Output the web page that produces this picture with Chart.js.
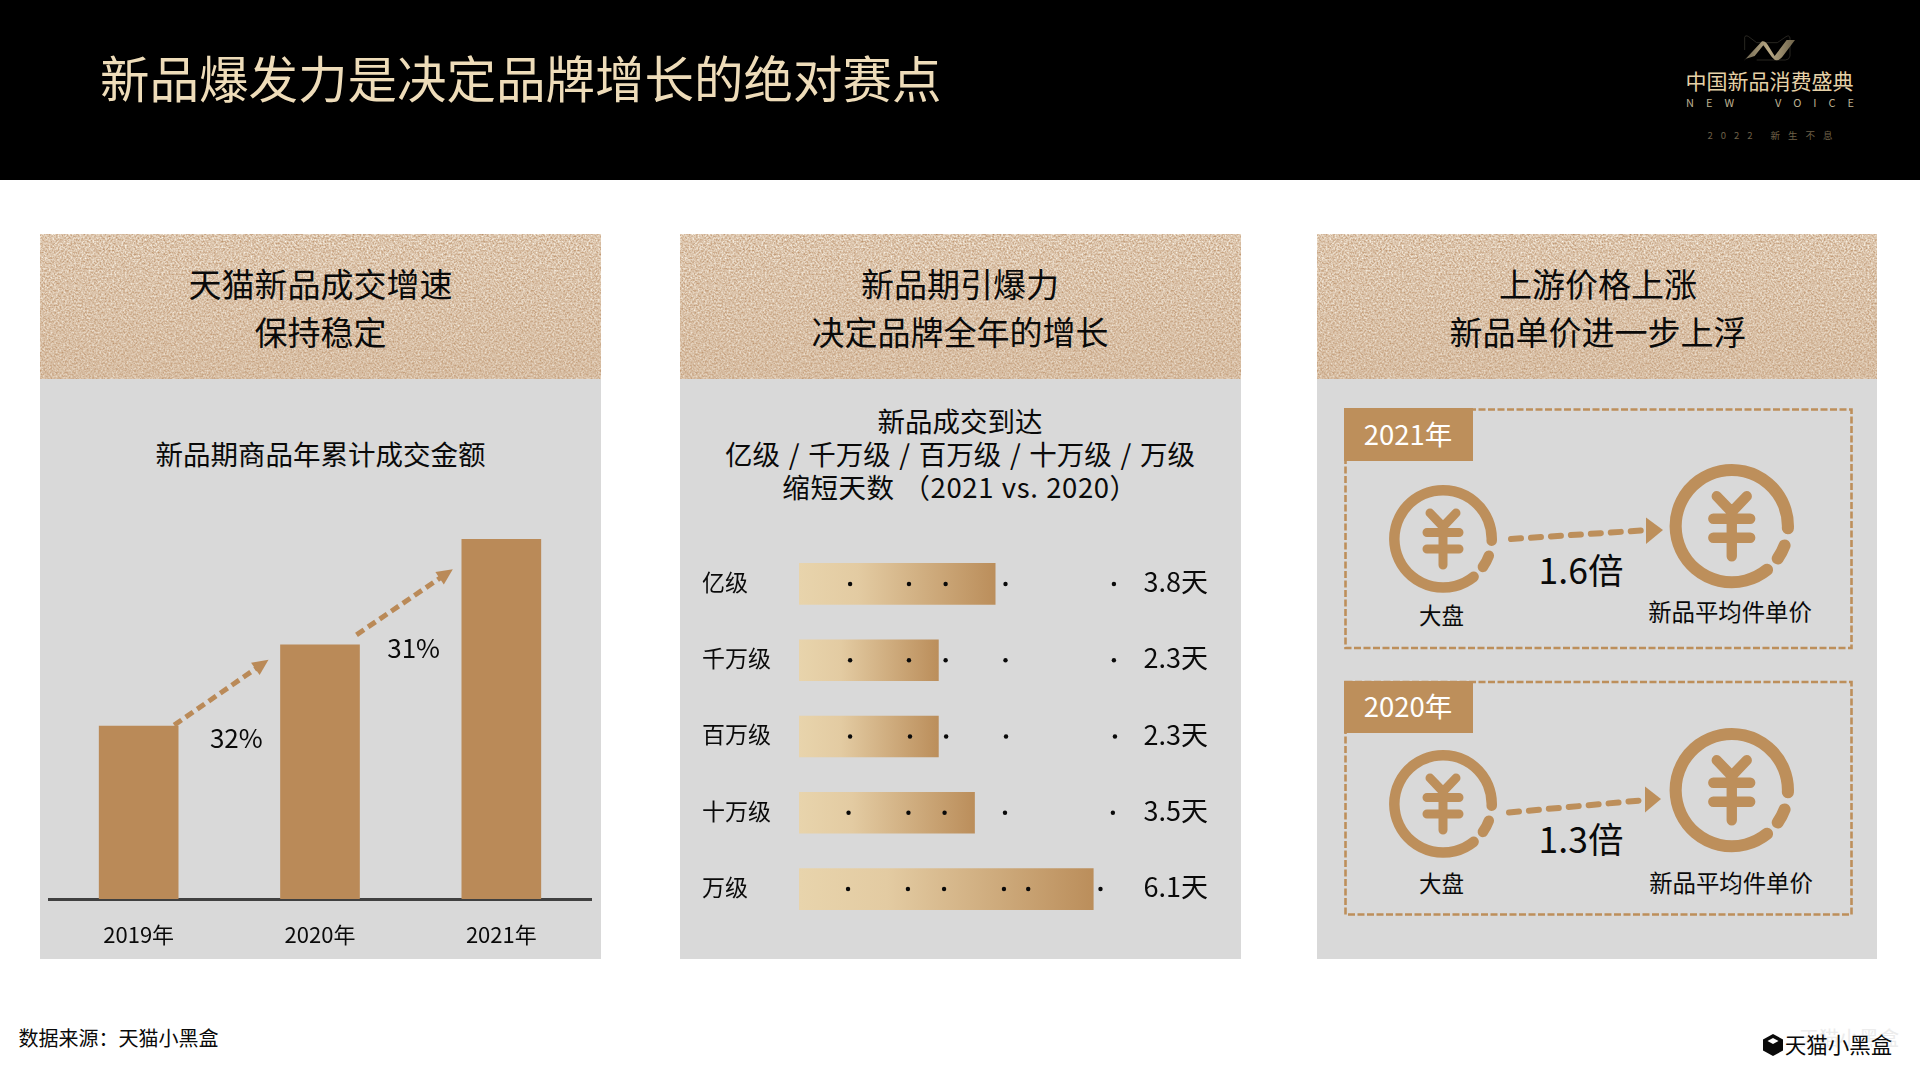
<!DOCTYPE html>
<html lang="zh-CN">
<head>
<meta charset="utf-8">
<title>新品爆发力是决定品牌增长的绝对赛点</title>
<script src="https://cdn.jsdelivr.net/npm/chart.js@4"></script>
<style>
html, body { margin: 0; padding: 0; background: #fff; }
body { position: relative; width: 1920px; height: 1080px; overflow: hidden; font-family: "Noto Sans CJK SC", "Noto Sans", sans-serif; color: #0a0a0a; }
.abs { position: absolute; }
.t { position: absolute; line-height: 1; white-space: nowrap; transform: translate(-50%, -50%); }
#top-band { left: 0; top: 0; width: 1920px; height: 180px; background: #000; }
#main-title { left: 100px; top: 77px; font-size: 49.5px; line-height: 1; color: #eedcb9; white-space: nowrap; transform: translateY(-50%); }
.panel { top: 234px; width: 560px; height: 725px; background: #d9d9d9; }
.panel-head { left: 0; top: 0; width: 100%; height: 145px; background: #dcc4aa; overflow: hidden; }
.panel-head svg { position: absolute; left: 0; top: 0; }
.head-txt { font-size: 33px; }
.sub-txt { font-size: 27.5px; }
canvas { position: absolute; display: block; }
</style>
</head>
<body>

<div class="abs" id="top-band"></div>
<div class="abs" id="main-title">新品爆发力是决定品牌增长的绝对赛点</div>

<!-- logo, top right -->
<svg class="abs" style="left:1640px;top:0" width="280" height="180" viewBox="0 0 840 540">
  <defs>
    <linearGradient id="ribbon" x1="0" x2="1" y1="0" y2="0">
      <stop offset="0" stop-color="#6f6650"/><stop offset=".5" stop-color="#b9a985"/><stop offset="1" stop-color="#6d6249"/>
    </linearGradient>
  </defs>
  <path d="M314 150 L314 112 Q316 104 326 110 L350 128 L412 128 L438 110 Q448 104 450 114 L450 168 Q448 180 436 180 L350 180" fill="none" stroke="#3d3a32" stroke-width="2"/>
  <path d="M310 184 L336 156 L366 124 Q376 122 384 136 L404 168 L440 120 L465 120 L426 172 Q410 190 396 172 L370 136 L344 168 L318 176 Z" fill="url(#ribbon)"/>
</svg>
<div class="t" style="left:1769.5px;top:80px;font-size:21px;color:#e6d1a7">中国新品消费盛典</div>
<div class="t" style="left:1770px;top:102px;font-size:11px;letter-spacing:12px;color:#bdb090;margin-left:6px">NEW&nbsp;&nbsp;VOICE</div>
<div class="t" style="left:1770px;top:136px;font-size:9.5px;letter-spacing:8px;color:#6f6148;margin-left:4px">2022&nbsp;新生不息</div>

<!-- noise for the panel headers -->
<svg width="0" height="0" style="position:absolute">
  <defs>
    <filter id="grain" x="0" y="0" width="100%" height="100%" color-interpolation-filters="sRGB">
      <feTurbulence type="fractalNoise" baseFrequency="0.55" numOctaves="2" seed="7"/>
      <feColorMatrix type="matrix" values="0.35 0 0 0 0.69  0.55 0 0 0 0.5  0.7 0 0 0 0.33  0 0 0 0 1"/>
    </filter>
    <linearGradient id="head-fade" x1="0" x2="0" y1="0" y2="1">
      <stop offset="0" stop-color="#c9a888" stop-opacity="0"/>
      <stop offset="1" stop-color="#c9a888" stop-opacity=".32"/>
    </linearGradient>
    <symbol id="coin" viewBox="-54 -54 108 108" overflow="visible">
      <g fill="none" stroke="#bd8f5b" stroke-linecap="round" stroke-linejoin="round">
        <path stroke-width="10.5" d="M30.6 37.8 A48.7 48.7 0 1 1 48.7 1.7"/>
        <path stroke-width="10.5" d="M45.8 16.7 A48.7 48.7 0 0 1 39.9 27.9"/>
        <path stroke-width="9" d="M-13 -26 L0 -12.4 L13 -26 M-16 -6.5 L16 -6.5 M-16 10 L16 10 M0 -12.4 L0 26"/>
      </g>
    </symbol>
  </defs>
</svg>

<!-- panel 1 -->
<div class="abs panel" style="left:40px;width:561px">
  <div class="panel-head"><svg width="561" height="145"><rect width="561" height="145" filter="url(#grain)"/><rect width="561" height="145" fill="url(#head-fade)"/></svg></div>
</div>
<div class="t head-txt" style="left:320.5px;top:282.5px">天猫新品成交增速</div>
<div class="t head-txt" style="left:320.5px;top:330.5px">保持稳定</div>
<div class="t sub-txt" style="left:320.5px;top:453.5px">新品期商品年累计成交金额</div>

<!-- panel 2 -->
<div class="abs panel" style="left:680px;width:561px">
  <div class="panel-head"><svg width="561" height="145"><rect width="561" height="145" filter="url(#grain)"/><rect width="561" height="145" fill="url(#head-fade)"/></svg></div>
</div>
<div class="t head-txt" style="left:960px;top:282.5px">新品期引爆力</div>
<div class="t head-txt" style="left:960px;top:330.5px">决定品牌全年的增长</div>
<div class="t sub-txt" style="left:960px;top:420.5px">新品成交到达</div>
<div class="t sub-txt" style="left:960px;top:453.5px;word-spacing:2.5px">亿级 / 千万级 / 百万级 / 十万级 / 万级</div>
<div class="t sub-txt" style="left:960px;top:486.5px;letter-spacing:.6px;word-spacing:1px">缩短天数 （2021 vs. 2020）</div>

<!-- panel 3 -->
<div class="abs panel" style="left:1317px;width:560px">
  <div class="panel-head"><svg width="560" height="145"><rect width="560" height="145" filter="url(#grain)"/><rect width="560" height="145" fill="url(#head-fade)"/></svg></div>
</div>
<div class="t head-txt" style="left:1598px;top:282.5px">上游价格上涨</div>
<div class="t head-txt" style="left:1598px;top:330.5px">新品单价进一步上浮</div>

<svg class="abs" style="left:0;top:0" width="1920" height="1080">
  <g fill="none" stroke="#bd8f5b" stroke-width="2.6" stroke-dasharray="7 2.5">
    <rect x="1345.5" y="409.5" width="506" height="238.5"/>
    <rect x="1345.5" y="682" width="506" height="232.5"/>
  </g>
  <rect x="1344" y="408" width="129" height="53" fill="#bd8f5b"/>
  <rect x="1344" y="681" width="129" height="52" fill="#bd8f5b"/>
  <use href="#coin" x="1389" y="485" width="108" height="108"/>
  <use href="#coin" x="1669.5" y="464" width="124.5" height="124.5"/>
  <use href="#coin" x="1389" y="750" width="108" height="108"/>
  <use href="#coin" x="1669.5" y="728" width="124.5" height="124.5"/>
  <g stroke="#bd8f5b" stroke-width="6" stroke-linecap="round" stroke-dasharray="10 10" fill="none">
    <path d="M1511 539 L1642 530.5"/>
    <path d="M1509 812.5 L1640 800.5"/>
  </g>
  <path d="M1646 517.5 L1663 530 L1646 544 Z" fill="#bd8f5b"/>
  <path d="M1645 786.5 L1661 799 L1645 812.5 Z" fill="#bd8f5b"/>
</svg>
<div class="t" style="left:1408px;top:433.5px;font-size:27.5px;color:#fff">2021年</div>
<div class="t" style="left:1408px;top:705.5px;font-size:27.5px;color:#fff">2020年</div>
<div class="t" style="left:1581px;top:569px;font-size:35.5px">1.6倍</div>
<div class="t" style="left:1581px;top:838px;font-size:35.5px">1.3倍</div>
<div class="t" style="left:1441.5px;top:614px;font-size:22.5px">大盘</div>
<div class="t" style="left:1441.5px;top:881.5px;font-size:22.5px">大盘</div>
<div class="t" style="left:1730px;top:612px;font-size:23.4px">新品平均件单价</div>
<div class="t" style="left:1731px;top:882.5px;font-size:23.4px">新品平均件单价</div>

<!-- footer -->
<div class="t" style="left:118.5px;top:1037.5px;font-size:20px">数据来源：天猫小黑盒</div>
<div class="t" style="left:1849px;top:1038px;font-size:20px;color:#ececec">天猫小黑盒</div>
<div class="t" style="left:1838.5px;top:1044px;font-size:21.5px">天猫小黑盒</div>
<svg class="abs" style="left:1762px;top:1033px" width="22" height="24" viewBox="0 0 22 24">
  <path d="M11 1 L21 6.5 L21 17.5 L11 23 L1 17.5 L1 6.5 Z" fill="#0a0a0a"/>
  <path d="M11 5 L16.5 8 L11 11 L5.5 8 Z" fill="#fff"/>
</svg>

<canvas id="growth-chart" width="544" height="470" style="left:48px;top:484px"></canvas>
<canvas id="tier-chart" width="510" height="409" style="left:702px;top:532px"></canvas>

<script>
'use strict';

/* ── Chart 1: yearly amount, no axis in the source, so indexed to 2019 = 100 ── */
var yearLabels   = [ '2019年', '2020年', '2021年' ];
var yearAmounts  = [ 100, 147, 208 ];
var growthLabels = [ '32%', '31%' ];

/* ── Chart 2: days shortened ── */
var tierLabels = [ '亿级', '千万级', '百万级', '十万级', '万级' ];
var tierDays   = [ '3.8天', '2.3天', '2.3天', '3.5天', '6.1天' ];
// bar lengths as drawn in the picture, they are not strictly proportional to the days
var tierBars   = [ 3.8, 2.7, 2.7, 3.4, 5.7 ];
// stray dots in each row of the source, in axis units
var tierDots   = [
    [ 0.99, 2.13, 2.84, 4.00, 6.10 ],
    [ 0.99, 2.13, 2.84, 4.00, 6.10 ],
    [ 0.99, 2.15, 2.85, 4.01, 6.12 ],
    [ 0.96, 2.12, 2.82, 3.99, 6.08 ],
    [ 0.95, 2.11, 2.81, 3.97, 4.44, 5.84 ]
];

var BAR_COLOR = '#ba8a58';
var FONT = '"Noto Sans CJK SC", "Noto Sans", sans-serif';

Chart.defaults.font.family = FONT;
Chart.defaults.color = '#0a0a0a';
Chart.defaults.animation = false;
Chart.defaults.plugins.legend.display = false;
Chart.defaults.plugins.tooltip.enabled = false;

/* dashed growth arrows between the bars */
var growthArrows = {
    id: 'growthArrows',
    afterDatasetsDraw: function ( chart ) {
        var ctx  = chart.ctx;
        var bars = chart.getDatasetMeta( 0 ).data;
        var half = bars[ 0 ].width / 2;
        var off  = [
            { sx: -4, sy: -1,  ex: -12, ey: 15, tx: 15, ty: 46 },
            { sx: -3, sy: -10, ex: -9,  ey: 30, tx: 9,  ty: 46 }
        ];

        growthLabels.forEach( function ( label, i ) {
            var from = bars[ i ];
            var to   = bars[ i + 1 ];
            var x1 = from.x + half + off[ i ].sx;
            var y1 = from.y + off[ i ].sy;
            var x2 = to.x - half + off[ i ].ex;
            var y2 = to.y + off[ i ].ey;
            var a  = Math.atan2( y2 - y1, x2 - x1 );
            var hx = x2 - Math.cos( a ) * 14;
            var hy = y2 - Math.sin( a ) * 14;

            ctx.save();
            ctx.strokeStyle = BAR_COLOR;
            ctx.fillStyle = BAR_COLOR;
            ctx.lineWidth = 5;
            ctx.setLineDash( [ 9, 5 ] );
            ctx.beginPath();
            ctx.moveTo( x1, y1 );
            ctx.lineTo( hx, hy );
            ctx.stroke();
            ctx.setLineDash( [] );
            ctx.beginPath();
            ctx.moveTo( x2, y2 );
            ctx.lineTo( hx + Math.sin( a ) * 7.5 - Math.cos( a ) * 2, hy - Math.cos( a ) * 7.5 - Math.sin( a ) * 2 );
            ctx.lineTo( hx - Math.sin( a ) * 7.5 - Math.cos( a ) * 2, hy + Math.cos( a ) * 7.5 - Math.sin( a ) * 2 );
            ctx.closePath();
            ctx.fill();

            ctx.fillStyle = '#0a0a0a';
            ctx.font = '26px ' + FONT;
            ctx.textAlign = 'center';
            ctx.textBaseline = 'middle';
            ctx.fillText( label, ( x1 + x2 ) / 2 + off[ i ].tx, ( y1 + y2 ) / 2 + off[ i ].ty );
            ctx.restore();
        } );
    }
};

/* dots and "x.x天" labels on the tier rows */
var tierMarks = {
    id: 'tierMarks',
    afterDatasetsDraw: function ( chart ) {
        var ctx = chart.ctx;
        var xs  = chart.scales.x;
        var ys  = chart.scales.y;

        ctx.save();
        ctx.fillStyle = '#0a0a0a';
        tierLabels.forEach( function ( label, i ) {
            var y = ys.getPixelForValue( i );
            tierDots[ i ].forEach( function ( v ) {
                ctx.beginPath();
                ctx.arc( xs.getPixelForValue( v ), y, 2.2, 0, Math.PI * 2 );
                ctx.fill();
            } );
            ctx.font = '27px ' + FONT;
            ctx.textAlign = 'right';
            ctx.textBaseline = 'middle';
            ctx.fillText( tierDays[ i ], chart.chartArea.right - 4, y - 2 );
        } );
        ctx.restore();
    }
};

new Chart( document.getElementById( 'growth-chart' ), {
    type: 'bar',
    plugins: [ growthArrows ],
    data: {
        labels: yearLabels,
        datasets: [ {
            data: yearAmounts,
            backgroundColor: BAR_COLOR,
            barThickness: 79
        } ]
    },
    options: {
        responsive: false,
        layout: { padding: 0 },
        scales: {
            x: {
                afterFit: function ( scale ) { scale.height = 55; },
                grid: { display: false, drawTicks: false },
                border: { display: true, color: '#404040', width: 3 },
                ticks: { padding: 22, font: { size: 22 }, color: '#0a0a0a', maxRotation: 0 }
            },
            y: { display: false, min: 0, max: 240 }
        }
    }
} );

new Chart( document.getElementById( 'tier-chart' ), {
    type: 'bar',
    plugins: [ tierMarks ],
    data: {
        labels: tierLabels,
        datasets: [ {
            data: tierBars,
            barThickness: 41,
            backgroundColor: function ( c ) {
                var xs = c.chart.scales.x;
                var x0 = xs ? xs.getPixelForValue( 0 ) : NaN;
                var x1 = xs ? xs.getPixelForValue( tierBars[ c.dataIndex ] ) : NaN;
                if ( ! isFinite( x0 ) || ! isFinite( x1 ) ) return '#e8d4ac'; // layout not ready yet
                var g = c.chart.ctx.createLinearGradient( x0, 0, x1, 0 );
                g.addColorStop( 0, '#e8d4ac' );
                g.addColorStop( 0.3, '#e3cba2' );
                g.addColorStop( 1, '#bb8e5b' );
                return g;
            }
        } ]
    },
    options: {
        responsive: false,
        indexAxis: 'y',
        layout: { padding: 0 },
        scales: {
            x: { display: false, min: 0, max: 8 },
            y: {
                afterFit: function ( scale ) { scale.width = 97; },
                grid: { display: false, drawTicks: false },
                border: { display: false },
                ticks: { crossAlign: 'far', padding: 0, labelOffset: -2, font: { size: 23 }, color: '#0a0a0a' }
            }
        }
    }
} );
</script>
</body>
</html>
